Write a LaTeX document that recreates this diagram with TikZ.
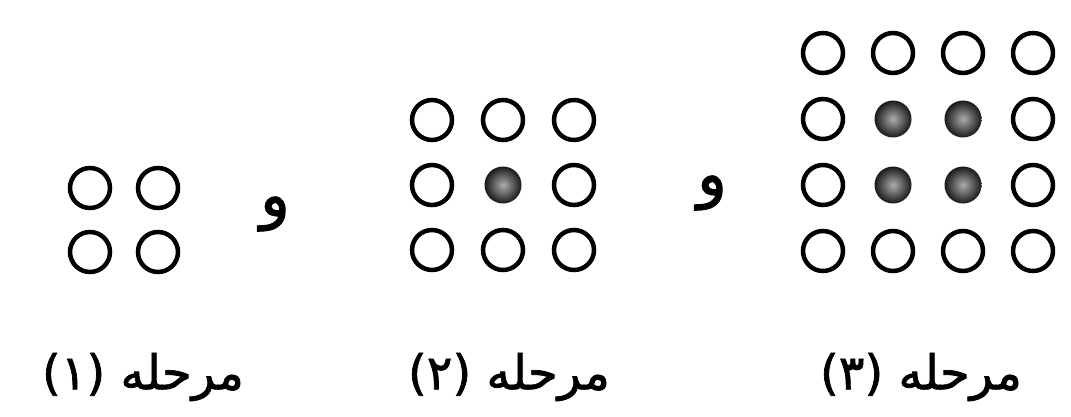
\documentclass[tikz,border=0pt]{standalone}
\usepackage{fontspec}
\TeXXeTstate=1
\newfontfamily\arabicfont[Script=Arabic,FakeBold=1.5]{DejaVu Sans}
\tikzset{
  ring/.style={circle, draw=black, line width=4.5pt, minimum size=40pt, inner sep=0pt},
  dot/.style={circle, inner sep=0pt, minimum size=37pt, shading=radial, inner color=gray!65, outer color=black!90},
  lbl/.style={font=\arabicfont\fontsize{48}{56}\selectfont, inner sep=0pt},
  waw/.style={font=\arabicfont\fontsize{62}{70}\selectfont, inner sep=0pt}
}
\begin{document}
\begin{tikzpicture}[x=1pt,y=-1pt]
\useasboundingbox[fill=white] (0,0) rectangle (1071,417);
% stage 1
\foreach \i/\x in {1/90,2/158}{
  \foreach \j/\y in {1/188,2/252}{
    \node[ring] (a\i\j) at (\x,\y) {};
  }
}
% stage 2
\foreach \i/\x in {1/432,2/503,3/574}{
  \foreach \j/\y in {1/120,2/185,3/250}{
    \ifnum\i=2 \ifnum\j=2
      \node[dot] (b\i\j) at (\x,\y) {};
    \else
      \node[ring] (b\i\j) at (\x,\y) {};
    \fi\else
      \node[ring] (b\i\j) at (\x,\y) {};
    \fi
  }
}
% stage 3
\foreach \i/\x in {1/823,2/893,3/963,4/1033}{
  \foreach \j/\y in {1/53,2/119,3/185,4/251}{
    \pgfmathtruncatemacro{\inner}{(\i>1)&&(\i<4)&&(\j>1)&&(\j<4)}
    \ifnum\inner=1
      \node[dot] (c\i\j) at (\x,\y) {};
    \else
      \node[ring] (c\i\j) at (\x,\y) {};
    \fi
  }
}
\node[waw] (w1) at (275,214) {\beginR و\endR};
\node[waw] (w2) at (712,193) {\beginR و\endR};
\node[lbl] (l1) at (143,377) {\beginR مرحله \beginL(۱)\endL\endR};
\node[lbl] (l2) at (509,377) {\beginR مرحله \beginL(۲)\endL\endR};
\node[lbl] (l3) at (921,377) {\beginR مرحله \beginL(۳)\endL\endR};
\end{tikzpicture}
\end{document}
